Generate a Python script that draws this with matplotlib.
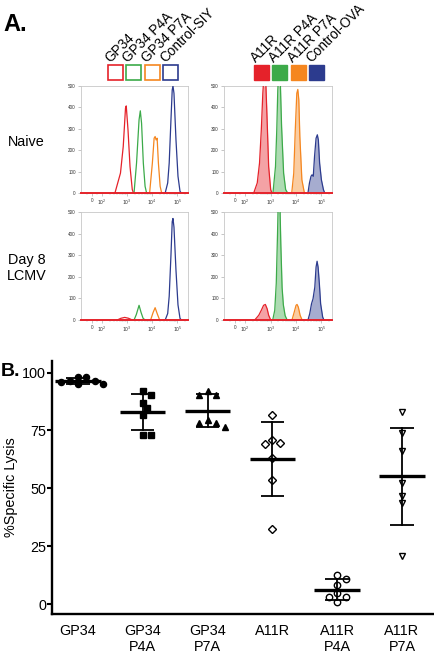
import matplotlib
matplotlib.use('Agg')
import matplotlib.pyplot as plt
import numpy as np
from matplotlib.patches import Rectangle

plt.rcParams['font.family'] = ['Liberation Sans', 'DejaVu Sans']

# ------------------------------------------------------------------ data
left_labels = ['GP34', 'GP34 P4A', 'GP34 P7A', 'Control-SIY']
right_labels = ['A11R', 'A11R P4A', 'A11R P7A', 'Control-OVA']
row_labels = ['Naive', 'Day 8\nLCMV']
hist_ticks = [0, 1e2, 1e3, 1e4, 1e5]
hist_ticklabels = ['0', '$10^2$', '$10^3$', '$10^4$', '$10^5$']
count_ticks = [0, 100, 200, 300, 400, 500]

# Naive, GP34 family (open histograms), log10 fluorescence / counts
nl_red_log = [2.51, 2.73, 2.84, 2.93, 2.96, 3.03, 3.11, 3.20, 3.25]
nl_red_cnt = [0, 93, 217, 396, 407, 295, 124, 16, 0]
nl_green_log = [3.27, 3.37, 3.47, 3.52, 3.57, 3.64, 3.71, 3.77]
nl_green_cnt = [0, 140, 342, 384, 326, 140, 31, 0]
nl_orange_log = [3.89, 4.00, 4.07, 4.11, 4.15, 4.19, 4.24, 4.31, 4.37]
nl_orange_cnt = [0, 140, 256, 264, 248, 256, 140, 31, 0]
nl_blue_log = [4.51, 4.61, 4.67, 4.74, 4.79, 4.82, 4.86, 4.94, 5.02, 5.10, 5.15]
nl_blue_cnt = [0, 47, 140, 342, 481, 500, 466, 248, 78, 8, 0]

# Naive, A11R family (filled histograms)
nr_red_log = [2.33, 2.47, 2.56, 2.63, 2.69, 2.73, 2.80, 2.85, 2.92, 3.00, 3.05]
nr_red_cnt = [0, 47, 140, 295, 466, 540, 540, 373, 124, 16, 0]
nr_green_log = [3.09, 3.19, 3.24, 3.28, 3.32, 3.37, 3.43, 3.51, 3.59, 3.67]
nr_green_cnt = [0, 124, 295, 481, 560, 560, 311, 93, 16, 0]
nr_orange_log = [3.83, 3.91, 3.97, 4.03, 4.07, 4.11, 4.15, 4.23, 4.33]
nr_orange_cnt = [0, 93, 295, 466, 484, 435, 264, 62, 0]
nr_blue_log = [4.47, 4.53, 4.59, 4.63, 4.68, 4.73, 4.79, 4.84, 4.88, 4.93, 5.00, 5.08, 5.13]
nr_blue_cnt = [0, 47, 78, 85, 78, 171, 256, 272, 248, 140, 62, 16, 0]

# Day 8 LCMV, GP34 family
dl_red_log = [2.60, 2.75, 2.90, 3.05, 3.20]
dl_red_cnt = [0, 8, 12, 8, 0]
dl_green_log = [3.27, 3.36, 3.47, 3.55, 3.63, 3.71]
dl_green_cnt = [0, 25, 68, 35, 8, 0]
dl_orange_log = [3.93, 4.03, 4.11, 4.19, 4.29]
dl_orange_cnt = [0, 35, 57, 30, 0]
dl_blue_log = [4.51, 4.61, 4.67, 4.74, 4.79, 4.82, 4.86, 4.94, 5.02, 5.10, 5.15]
dl_blue_cnt = [0, 30, 110, 300, 455, 470, 430, 230, 70, 8, 0]

# Day 8 LCMV, A11R family
dr_red_log = [2.37, 2.53, 2.63, 2.72, 2.79, 2.86, 2.92, 3.00]
dr_red_cnt = [0, 22, 45, 68, 72, 52, 22, 0]
dr_green_log = [3.08, 3.16, 3.22, 3.27, 3.30, 3.36, 3.40, 3.45, 3.50, 3.57, 3.65]
dr_green_cnt = [0, 45, 170, 400, 560, 560, 350, 150, 70, 20, 0]
dr_orange_log = [3.84, 3.93, 4.00, 4.04, 4.09, 4.16, 4.24]
dr_orange_cnt = [0, 37, 68, 72, 60, 22, 0]
dr_blue_log = [4.47, 4.54, 4.61, 4.67, 4.74, 4.79, 4.83, 4.87, 4.92, 4.97, 5.05, 5.10]
dr_blue_cnt = [0, 29, 75, 98, 152, 245, 272, 245, 168, 75, 14, 0]

# Panel B: % specific lysis
lysis_groups = ['GP34', 'GP34\nP4A', 'GP34\nP7A', 'A11R', 'A11R\nP4A', 'A11R\nP7A']
lysis_gp34 = [98.3, 98.0, 96.5, 96.2, 96.0, 95.2, 95.2]
lysis_gp34_p4a = [92.0, 90.2, 86.8, 84.5, 81.8, 73.0, 73.0]
lysis_gp34_p7a = [92.2, 90.5, 90.5, 79.3, 78.4, 78.0, 76.3]
lysis_a11r = [81.5, 70.7, 69.4, 69.0, 63.0, 53.4, 32.3]
lysis_a11r_p4a = [12.5, 11.0, 8.2, 4.7, 3.0, 3.0, 0.9]
lysis_a11r_p7a = [82.8, 74.1, 66.0, 52.2, 46.6, 43.5, 20.7]
lysis_ticks = [0, 25, 50, 75, 100]

# ------------------------------------------------------------------ style
RED, GREEN, ORANGE, BLUE = '#e5222a', '#3caa49', '#f5861f', '#2c3b8e'
COLORS = [RED, GREEN, ORANGE, BLUE]
W, H = 435, 653
fig = plt.figure(figsize=(W / 100, H / 100), dpi=100)


def fx(px):
    return px / W


def fy(py):
    return 1 - py / H


def pax(l, t, r, b):
    return fig.add_axes([fx(l), fy(b), (r - l) / W, (b - t) / H])


def setup_hist(ax):
    ax.set_xscale('symlog', linthresh=100, linscale=0.36, base=10)
    ax.set_xlim(-110, 262144)
    ax.set_ylim(0, 500)
    ax.set_xticks(hist_ticks)
    ax.set_xticklabels(hist_ticklabels)
    minors = [-50, 50] + [m * 10 ** k for k in (2, 3, 4, 5) for m in range(2, 10) if m * 10 ** k < 262144]
    ax.set_xticks(minors, minor=True)
    ax.set_yticks(count_ticks)
    ax.tick_params(which='major', labelsize=3.3, length=2.2, width=0.4, color='#999999',
                   pad=1.5, labelcolor='#333333')
    ax.tick_params(which='minor', length=1.2, width=0.3, color='#aaaaaa')
    for s in ax.spines.values():
        s.set_color('#c8c8c8')
        s.set_linewidth(0.6)


hist_sets = [
    ((81, 86, 188, 193), False, [(nl_red_log, nl_red_cnt), (nl_green_log, nl_green_cnt),
                                 (nl_orange_log, nl_orange_cnt), (nl_blue_log, nl_blue_cnt)]),
    ((224, 86, 332, 193), True, [(nr_red_log, nr_red_cnt), (nr_green_log, nr_green_cnt),
                                 (nr_orange_log, nr_orange_cnt), (nr_blue_log, nr_blue_cnt)]),
    ((81, 212, 188, 320), False, [(dl_red_log, dl_red_cnt), (dl_green_log, dl_green_cnt),
                                  (dl_orange_log, dl_orange_cnt), (dl_blue_log, dl_blue_cnt)]),
    ((224, 212, 332, 320), True, [(dr_red_log, dr_red_cnt), (dr_green_log, dr_green_cnt),
                                  (dr_orange_log, dr_orange_cnt), (dr_blue_log, dr_blue_cnt)]),
]

for box, filled, curves in hist_sets:
    ax = pax(*box)
    setup_hist(ax)
    for (lg, cnt), col in zip(curves, COLORS):
        x = 10 ** np.asarray(lg)
        y = np.asarray(cnt, dtype=float)
        if filled:
            ax.fill_between(x, 0, y, color=col, alpha=0.42, lw=0, zorder=2)
        ax.plot(x, y, color=col, lw=0.9, zorder=3)
    ax.axhline(0, color=RED, lw=1.4, zorder=4, clip_on=False)

# legend squares + rotated labels
for i, (lab, col) in enumerate(zip(left_labels, COLORS)):
    x0 = 108 + i * 18.3
    fig.add_artist(Rectangle((fx(x0), fy(80)), 15 / W, 15 / H, transform=fig.transFigure,
                             facecolor='white', edgecolor=col, lw=1.2))
    fig.text(fx(x0 + 2), fy(63), lab, rotation=45, rotation_mode='anchor',
             ha='left', va='baseline', fontsize=9.8)
for i, (lab, col) in enumerate(zip(right_labels, COLORS)):
    x0 = 254 + i * 18.3
    fig.add_artist(Rectangle((fx(x0), fy(80)), 15 / W, 15 / H, transform=fig.transFigure,
                             facecolor=col, edgecolor=col, lw=1.0))
    fig.text(fx(x0 + 2), fy(63), lab, rotation=45, rotation_mode='anchor',
             ha='left', va='baseline', fontsize=9.8)

fig.text(fx(26), fy(142), row_labels[0], ha='center', va='center', fontsize=10.4)
fig.text(fx(27), fy(268), row_labels[1], ha='center', va='center', fontsize=10.4,
         linespacing=1.1)
fig.text(fx(3), fy(31), 'A.', fontsize=17, fontweight='bold', va='baseline')
fig.text(fx(1), fy(376), 'B.', fontsize=14, fontweight='bold', va='baseline')

# ------------------------------------------------------------------ panel B
axb = pax(52, 361, 435, 614)
axb.set_xlim(-0.40, 5.51)
axb.set_ylim(-4.3, 105)
axb.spines['top'].set_visible(False)
axb.spines['right'].set_visible(False)
for s in ('left', 'bottom'):
    axb.spines[s].set_linewidth(1.7)
axb.set_yticks(lysis_ticks)
axb.set_xticks(range(len(lysis_groups)))
axb.set_xticklabels(lysis_groups, fontsize=10.4, linespacing=1.1)
axb.tick_params(axis='x', length=0, pad=7.5)
axb.tick_params(axis='y', length=3.5, width=1.5, labelsize=10.4, pad=0.8)
axb.set_ylabel('%Specific Lysis', fontsize=10.4, labelpad=3)

groups = [lysis_gp34, lysis_gp34_p4a, lysis_gp34_p7a, lysis_a11r, lysis_a11r_p4a, lysis_a11r_p7a]
markers = [('o', True, 4.4), ('s', True, 4.2), ('^', True, 4.8),
           ('D', False, 3.8), ('o', False, 4.6), ('v', False, 4.8)]

fig.canvas.draw()
tr = axb.transData
px_per_unit = tr.transform((1, 0))[0] - tr.transform((0, 0))[0]


def swarm_x(xc, vals, size_px):
    placed = []
    xs = []
    ys_px = [tr.transform((xc, v))[1] for v in vals]
    step = size_px * 0.6
    cands = [0]
    for k in range(1, 12):
        cands += [k, -k]
    for yp in ys_px:
        for c in cands:
            xp = c * step
            if all((xp - a) ** 2 + (yp - b) ** 2 >= (size_px * 0.95) ** 2 for a, b in placed):
                break
        placed.append((xp, yp))
        xs.append(xc + xp / px_per_unit)
    return xs


for i, (vals, (mk, fill, ms)) in enumerate(zip(groups, markers)):
    v = np.asarray(vals)
    mean, sd = v.mean(), v.std(ddof=1)
    xs = swarm_x(i, vals, ms * 100 / 72 + 0.8)
    axb.plot(xs, v, ls='none', marker=mk, ms=ms, mfc='black' if fill else 'white',
             mec='black', mew=1.0, zorder=2, clip_on=False)
    axb.plot([i - 0.35, i + 0.35], [mean, mean], color='black', lw=2.4, zorder=3,
             solid_capstyle='butt')
    axb.plot([i, i], [mean - sd, mean + sd], color='black', lw=1.3, zorder=3)
    for yy in (mean - sd, mean + sd):
        axb.plot([i - 0.18, i + 0.18], [yy, yy], color='black', lw=1.3, zorder=3,
                 solid_capstyle='butt')

fig.savefig('out.png', dpi=100)
